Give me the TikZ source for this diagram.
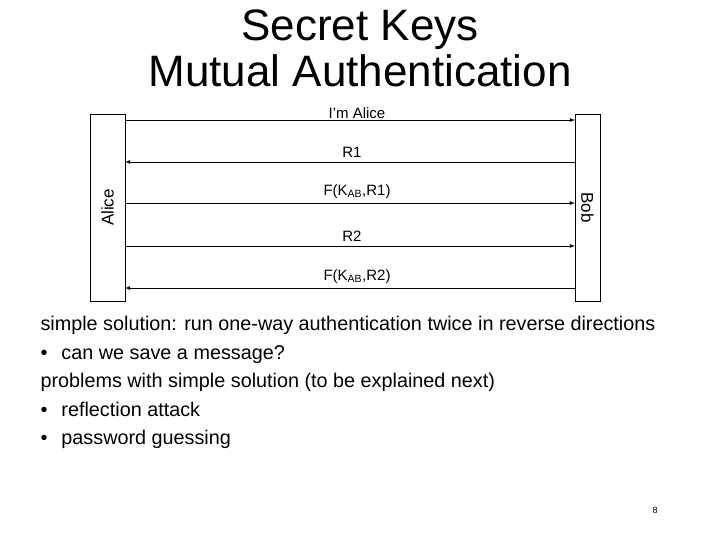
\documentclass[tikz,border=0pt]{standalone}
\usepackage{fontspec}
\setmainfont{Liberation Sans}
\begin{document}
\begin{tikzpicture}[x=1pt,y=-1pt,
    party/.style={draw=black,minimum width=#1,inner sep=0pt},
    msg/.style={-latex,thick},
    lbl/.style={font=\fontsize{15}{17}\selectfont,inner sep=1pt}]
	\useasboundingbox (0,0) rectangle (720,540);
	
	\node[font=\fontsize{44}{46}\selectfont,align=center] (title) at (360,48) {Secret Keys\\Mutual Authentication};
	
	\node[party=35pt,minimum height=187pt] (alice) at (107.5,207.5) {};
	\node[party=25pt,minimum height=187pt] (bob) at (587.5,207.5) {};
	\node[rotate=90,lbl,font=\fontsize{17}{19}\selectfont] at (alice.center) {Alice};
	\node[rotate=-90,lbl,font=\fontsize{17}{19}\selectfont] at (bob.center) {Bob};
	
	\coordinate (a1) at (125,120); \coordinate (b1) at (575,120);
	\coordinate (a2) at (125,162); \coordinate (b2) at (575,162);
	\coordinate (a3) at (125,203); \coordinate (b3) at (575,203);
	\coordinate (a4) at (125,246); \coordinate (b4) at (575,246);
	\coordinate (a5) at (125,288); \coordinate (b5) at (575,288);
	
	\draw[msg] (a1) -- node[lbl,above,xshift=7pt] {I'm Alice} (b1);
	\draw[msg] (b2) -- node[lbl,above,xshift=2pt,yshift=3pt] {R1} (a2);
	\draw[msg] (a3) -- node[lbl,above,xshift=7pt,yshift=3pt] {F(K\textsubscript{AB},R1)} (b3);
	\draw[msg] (a4) -- node[lbl,above,xshift=2pt,yshift=3pt] {R2} (b4);
	\draw[msg] (b5) -- node[lbl,above,xshift=7pt,yshift=3pt] {F(K\textsubscript{AB},R2)} (a5);
	
	\node[anchor=north west,align=left,font=\fontsize{19.8}{28.5}\selectfont] (text) at (37,313)
	  {simple solution: run one-way authentication twice in reverse directions\\
	   \textbullet\hspace{14pt}can we save a message?\\
	   problems with simple solution (to be explained next)\\
	   \textbullet\hspace{14pt}reflection attack\\
	   \textbullet\hspace{14pt}password guessing};
	\node[font=\fontsize{9}{10}\selectfont] (page) at (655,510) {8};
\end{tikzpicture}
\end{document}
